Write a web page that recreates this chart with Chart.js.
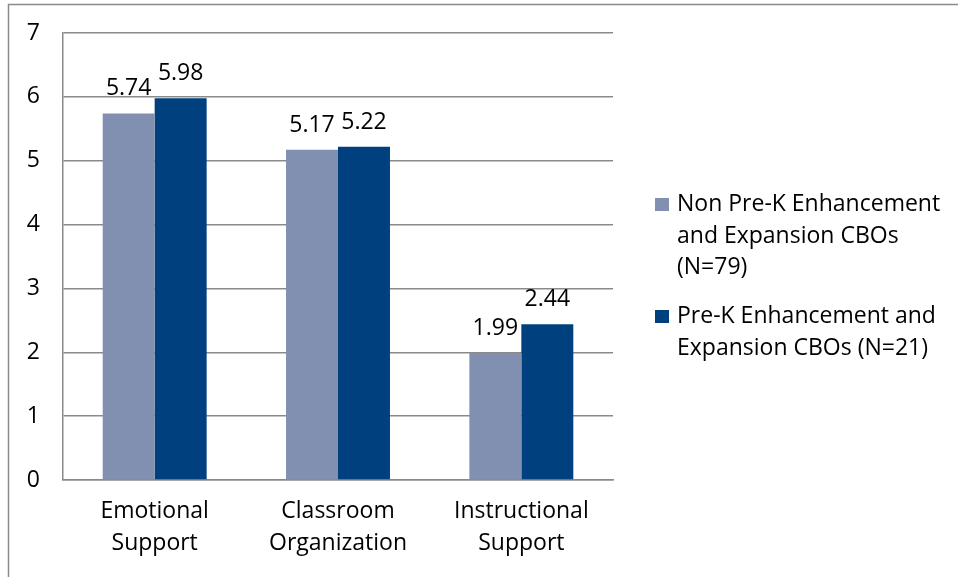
<!DOCTYPE html>
<html>
<head>
<meta charset="utf-8">
<script src="https://cdn.jsdelivr.net/npm/chart.js@4/dist/chart.umd.min.js"></script>
<style>
  html, body { margin: 0; padding: 0; background: #fff; }
  #wrap { width: 958px; height: 577px; }
</style>
</head>
<body>
<div id="wrap"><canvas id="myChart" width="958" height="577"></canvas></div>
<script>
var categories = [['Emotional', 'Support'], ['Classroom', 'Organization'], ['Instructional', 'Support']];
var nonPreK = [5.74, 5.17, 1.99];
var preK = [5.98, 5.22, 2.44];
var seriesNames = ['Non Pre-K Enhancement and Expansion CBOs (N=79)', 'Pre-K Enhancement and Expansion CBOs (N=21)'];
var legendLines = [
  ['Non Pre-K Enhancement', 'and Expansion CBOs', '(N=79)'],
  ['Pre-K Enhancement and', 'Expansion CBOs (N=21)']
];
var yTicks = [0, 1, 2, 3, 4, 5, 6, 7];

var FONT = '"Open Sans", "Liberation Sans", sans-serif';
var FONT_SIZE = 23;
var lightBlue = 'rgb(129, 144, 177)';
var darkBlue = 'rgb(0, 64, 126)';
var gridGray = '#8a8a8a';

// outer frame, value labels and the side legend
var extras = {
  id: 'extras',
  beforeDraw: function(chart) {
    var c = chart.ctx;
    c.save();
    c.fillStyle = '#fff';
    c.fillRect(0, 0, chart.width, chart.height);
    c.strokeStyle = '#8a8a8a';
    c.lineWidth = 1.5;
    c.strokeRect(8.5, 4.5, 1200, 1200);
    c.restore();
  },
  afterDatasetsDraw: function(chart) {
    var c = chart.ctx;
    c.save();
    c.font = FONT_SIZE + 'px ' + FONT;
    c.fillStyle = '#000';
    c.textAlign = 'center';
    c.textBaseline = 'alphabetic';
    chart.data.datasets.forEach(function(ds, i) {
      chart.getDatasetMeta(i).data.forEach(function(bar, j) {
        c.fillText(ds.data[j].toFixed(2), bar.x, bar.y - 18);
      });
    });
    c.restore();
  },
  afterDraw: function(chart) {
    var c = chart.ctx;
    c.save();
    c.font = FONT_SIZE + 'px ' + FONT;
    c.textAlign = 'left';
    c.textBaseline = 'alphabetic';
    var y = 211;
    chart.data.datasets.forEach(function(ds, i) {
      c.fillStyle = ds.backgroundColor;
      c.fillRect(655, y - 13, 14, 13);
      c.fillStyle = '#000';
      legendLines[i].forEach(function(line, k) {
        c.fillText(line, 677, y + k * 31.5);
      });
      y += legendLines[i].length * 31.5 + 17.5;
    });
    c.restore();
  }
};

var ctx = document.getElementById('myChart').getContext('2d');
var myChart = new Chart(ctx, {
  type: 'bar',
  data: {
    labels: categories,
    datasets: [{
      label: seriesNames[0],
      data: nonPreK,
      backgroundColor: lightBlue,
      barPercentage: 1,
      categoryPercentage: 0.567
    }, {
      label: seriesNames[1],
      data: preK,
      backgroundColor: darkBlue,
      barPercentage: 1,
      categoryPercentage: 0.567
    }]
  },
  plugins: [extras],
  options: {
    responsive: false,
    animation: false,
    layout: {
      padding: { left: 0, top: 33, right: 345, bottom: 0 }
    },
    plugins: {
      legend: { display: false },
      tooltip: { enabled: false }
    },
    scales: {
      x: {
        grid: { display: false, drawTicks: false },
        border: { display: true, color: gridGray, width: 1.5 },
        ticks: {
          color: '#000',
          padding: 16,
          maxRotation: 0,
          font: { family: FONT, size: FONT_SIZE, lineHeight: 1.37 }
        },
        afterFit: function(scale) {
          scale.height = 97;
          scale.paddingLeft = 0;
          scale.paddingRight = 0;
        }
      },
      y: {
        min: 0,
        max: 7,
        afterBuildTicks: function(scale) {
          scale.ticks = yTicks.map(function(v) { return { value: v }; });
        },
        grid: { color: gridGray, lineWidth: 1.5, drawTicks: false },
        border: { display: true, color: gridGray, width: 1.5 },
        ticks: {
          color: '#000',
          padding: 23,
          font: { family: FONT, size: FONT_SIZE }
        },
        afterFit: function(scale) {
          scale.width = 63;
          scale.paddingTop = 0;
          scale.paddingBottom = 0;
        }
      }
    }
  }
});
</script>
</body>
</html>
